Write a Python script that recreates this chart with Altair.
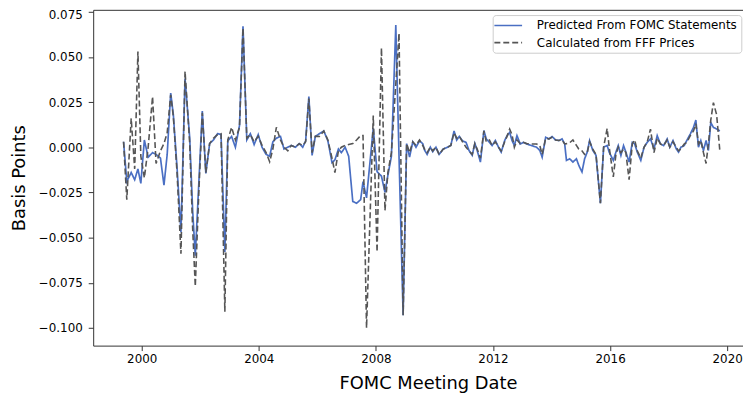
import altair as alt
import pandas as pd

# Meeting dates as decimal years
meeting_year = [
    1999.38, 1999.49, 1999.64, 1999.76, 1999.87, 1999.97,
    2000.09, 2000.22, 2000.37, 2000.49, 2000.64, 2000.76, 2000.87, 2000.99,
    2001.08, 2001.21, 2001.34, 2001.48, 2001.64, 2001.74, 2001.83, 2001.95,
    2002.07, 2002.19, 2002.32, 2002.45, 2002.59, 2002.71, 2002.84, 2002.94,
    2003.07, 2003.20, 2003.34, 2003.46, 2003.59, 2003.71, 2003.84, 2003.98,
    2004.11, 2004.25, 2004.37, 2004.48, 2004.60, 2004.74, 2004.86, 2004.99,
    2005.11, 2005.25, 2005.38, 2005.50, 2005.60, 2005.71, 2005.82, 2005.93,
    2006.07, 2006.22, 2006.36, 2006.50, 2006.60, 2006.72, 2006.82, 2006.95,
    2007.07, 2007.21, 2007.34, 2007.48, 2007.56, 2007.68, 2007.91,
    2008.04, 2008.19, 2008.31, 2008.41, 2008.53, 2008.68, 2008.79, 2008.93,
    2009.05, 2009.15, 2009.26, 2009.37, 2009.49, 2009.60, 2009.66, 2009.75, 2009.86, 2009.94,
    2010.05, 2010.16, 2010.30, 2010.45, 2010.56, 2010.67, 2010.76, 2010.85, 2010.96,
    2011.08, 2011.18, 2011.29, 2011.38, 2011.46, 2011.57, 2011.69, 2011.77, 2011.88, 2011.97,
    2012.08, 2012.19, 2012.28, 2012.40, 2012.48, 2012.57, 2012.65, 2012.73, 2012.82, 2012.93,
    2013.04, 2013.15, 2013.32, 2013.49, 2013.60, 2013.68, 2013.80, 2013.91,
    2014.02, 2014.14, 2014.25, 2014.36, 2014.45, 2014.51, 2014.62, 2014.73, 2014.85, 2014.93,
    2015.04, 2015.13, 2015.22, 2015.30, 2015.41, 2015.52, 2015.67, 2015.78, 2015.90, 2015.97,
    2016.11, 2016.20, 2016.28, 2016.37, 2016.46, 2016.54, 2016.65, 2016.76, 2016.84, 2016.93,
    2017.05, 2017.16, 2017.27, 2017.38, 2017.50, 2017.61, 2017.72, 2017.83, 2017.95,
    2018.04, 2018.15, 2018.26, 2018.34, 2018.42, 2018.53, 2018.62, 2018.74, 2018.85, 2018.93,
    2019.02, 2019.10, 2019.19, 2019.28, 2019.36, 2019.44, 2019.53, 2019.64, 2019.75,
]

predicted = [
    0.003, -0.019, -0.014, -0.018, -0.012, -0.020,
    0.004, -0.0055, -0.003, -0.004, -0.006, -0.021, -0.004, 0.030,
    0.018, -0.012, -0.047, 0.038, 0.005, -0.035, -0.060, -0.020,
    0.020, -0.0145, 0.002, 0.004, 0.0075, 0.007, -0.058, 0.0035,
    0.006, 0.000, 0.012, 0.067, 0.004, 0.0075, 0.0015, 0.007,
    0.000, -0.004, -0.005, 0.003, 0.005, 0.006, -0.001, 0.000,
    0.001, 0.000, 0.002, 0.000, 0.0035, 0.028, -0.0045, 0.006,
    0.0075, 0.009, 0.0035, -0.0085, -0.007, -0.001, -0.003, 0.000,
    -0.005, -0.030, -0.031, -0.029, -0.019, -0.028, 0.0105,
    -0.0135, -0.016, -0.025, -0.0155, -0.005, 0.0676, -0.005, -0.093,
    0.002, -0.0055, 0.003, 0.000, 0.0035, 0.002, -0.0015, -0.004, 0.000, -0.0025,
    0.000, -0.004, -0.001, 0.000, 0.001, 0.009, 0.004, 0.006, 0.0035,
    0.0027, -0.0018, -0.0045, 0.0021, -0.0018, -0.0082, 0.0092, 0.0046, 0.0027, 0.0009,
    0.0037, 0.000, -0.0027, 0.0037, 0.0064, 0.0082, 0.0037, 0.001, 0.0064, 0.0018,
    0.0027, 0.0018, 0.0009, 0.000, -0.0018, -0.0055, 0.0055, 0.0046,
    0.0059, 0.004, 0.0037, 0.0046, 0.0018, -0.0073, -0.0064, -0.0082, -0.0064, -0.010,
    -0.0137, -0.0064, -0.0027, 0.0037, -0.0018, -0.0045, -0.031, 0.000, 0.001, -0.0027,
    -0.0073, -0.0027, 0.0009, -0.0046, 0.0009, -0.0027, -0.0082, 0.0027, 0.0018, -0.0027,
    -0.0073, 0.000, 0.0027, 0.0046, -0.0009, 0.0064, 0.0018, 0.0009, 0.0046,
    0.000, 0.0037, -0.0009, -0.0027, 0.000, 0.0009, 0.0037, 0.0073, 0.011, 0.015,
    0.000, 0.0037, -0.0018, 0.0037, -0.0018, 0.0137, 0.011, 0.0101, 0.009,
]

calculated = [
    0.003, -0.029, 0.016, -0.012, 0.053, -0.005,
    -0.017, 0.000, 0.028, -0.009, -0.002, 0.002, 0.008, 0.029,
    0.017, -0.015, -0.059, 0.042, 0.002, -0.045, -0.077, -0.025,
    0.019, -0.014, 0.002, 0.005, 0.007, 0.0075, -0.091, 0.004,
    0.011, 0.004, 0.011, 0.066, 0.005, 0.007, 0.003, 0.006,
    0.001, -0.003, -0.008, -0.001, 0.011, 0.004, 0.000, -0.002,
    0.001, 0.000, 0.002, 0.001, 0.003, 0.027, -0.003, 0.006,
    0.006, 0.009, 0.004, -0.006, -0.014, -0.002, 0.000, 0.001,
    0.0015, 0.002, 0.004, 0.0065, 0.0065, -0.100, 0.0175,
    -0.058, 0.055, -0.035, -0.014, -0.003, 0.035, 0.063, -0.093,
    0.002, -0.003, 0.003, 0.001, 0.004, 0.001, -0.001, -0.003, 0.000, -0.002,
    0.000, -0.004, -0.001, 0.000, 0.001, 0.008, 0.005, 0.006, 0.003,
    0.000, -0.002, -0.004, 0.002, -0.001, -0.006, 0.009, 0.003, 0.004, 0.001,
    0.003, 0.000, -0.002, 0.003, 0.006, 0.010, 0.007, 0.000, 0.004, 0.002,
    0.0027, 0.002, 0.0018, 0.0018, 0.0009, -0.004, 0.005, 0.0046,
    0.0055, 0.004, 0.0037, 0.004, 0.0018, 0.002, 0.0025, 0.004, 0.001, -0.001,
    -0.002, -0.004, -0.003, 0.003, -0.001, -0.004, -0.031, 0.000, 0.0104, 0.000,
    -0.0164, -0.004, 0.000, -0.003, -0.001, -0.003, -0.018, 0.002, 0.004, -0.002,
    -0.006, 0.000, 0.003, 0.010, -0.003, 0.005, 0.0018, 0.001, 0.004,
    0.000, 0.003, 0.000, -0.002, -0.001, 0.0018, 0.0027, 0.0064, 0.009, 0.013,
    0.0018, 0.0037, -0.003, -0.009, 0.002, 0.015, 0.0247, 0.018, -0.002,
]

series_names = ["Predicted From FOMC Statements", "Calculated from FFF Prices"]
series_colors = ["#4a6fc3", "#555555"]
series_dashes = [[1, 0], [6, 3]]
x_ticks = [2000, 2004, 2008, 2012, 2016, 2020]
y_ticks = [-0.1, -0.075, -0.05, -0.025, 0.0, 0.025, 0.05, 0.075]

n = len(meeting_year)
df = pd.DataFrame({
    "year": meeting_year + meeting_year,
    "value": predicted + calculated,
    "series": [series_names[0]] * n + [series_names[1]] * n,
})

FONT = "DejaVu Sans"

xscale = alt.Scale(domain=[1998.342, 2020.541], nice=False, zero=False)
yscale = alt.Scale(domain=[-0.1098, 0.07604], nice=False, zero=False)

legend = alt.Legend(
    title=None, orient="none", legendX=403.3, legendY=5.3, direction="vertical",
    symbolType="M-2.33,0H2.33", symbolSize=144, symbolStrokeWidth=1.6,
    symbolOffset=5.2, labelOffset=21.9, rowPadding=4.3, padding=3.5,
    labelFont=FONT, labelFontSize=12, labelColor="#000000", labelLimit=400,
    strokeColor="#cccccc", fillColor="rgba(255,255,255,0.8)", cornerRadius=3,
)

color = alt.Color("series:N", scale=alt.Scale(domain=series_names, range=series_colors), legend=legend)
dash = alt.StrokeDash("series:N", scale=alt.Scale(domain=series_names, range=series_dashes), legend=legend)

y_enc = alt.Y(
    "value:Q", scale=yscale,
    axis=alt.Axis(
        values=y_ticks, format=".3f", grid=False, tickSize=5, tickColor="#333333",
        domainColor="#333333", labelFont=FONT, labelFontSize=12, labelColor="#000000",
        labelPadding=6, labelFlush=5, labelFlushOffset=2,
        title="Basis Points", titleFont=FONT, titleFontSize=18,
        titleFontWeight="normal", titleColor="#000000", titleX=-74, titleY=169.5,
        titleAngle=270, titleAlign="center", titleBaseline="middle",
    ),
)

base = alt.Chart(df)

blue = base.transform_filter(alt.datum.series == series_names[0]).mark_line(strokeWidth=1.7).encode(
    x=alt.X(
        "year:Q", scale=xscale,
        axis=alt.Axis(
            values=x_ticks, format="d", grid=False, tickSize=5, tickColor="#333333",
            domainColor="#333333", labelFont=FONT, labelFontSize=12, labelColor="#000000",
            labelPadding=3, title="FOMC Meeting Date", titleFont=FONT, titleFontSize=18,
            titleFontWeight="normal", titleColor="#000000", titleX=338, titleY=38,
            titleAlign="center", titleBaseline="middle",
        ),
    ),
    y=y_enc, color=color, strokeDash=dash,
)

gray = base.transform_filter(alt.datum.series == series_names[1]).mark_line(strokeWidth=1.6).encode(
    x=alt.X(
        "year:Q", scale=xscale,
        axis=alt.Axis(orient="top", labels=False, ticks=False, title=None, grid=False,
                      domain=True, domainColor="#333333"),
    ),
    y=y_enc, color=color, strokeDash=dash,
)

chart = (
    alt.layer(blue, gray)
    .resolve_axis(x="independent")
    .properties(
        width=656, height=339,
        autosize=alt.AutoSizeParams(type="none"),
        padding={"left": 86, "top": 0, "right": 0, "bottom": 48},
    )
    .configure_view(stroke="transparent")
)

chart.save("out.html", embed_options={"renderer": "svg", "actions": False})
